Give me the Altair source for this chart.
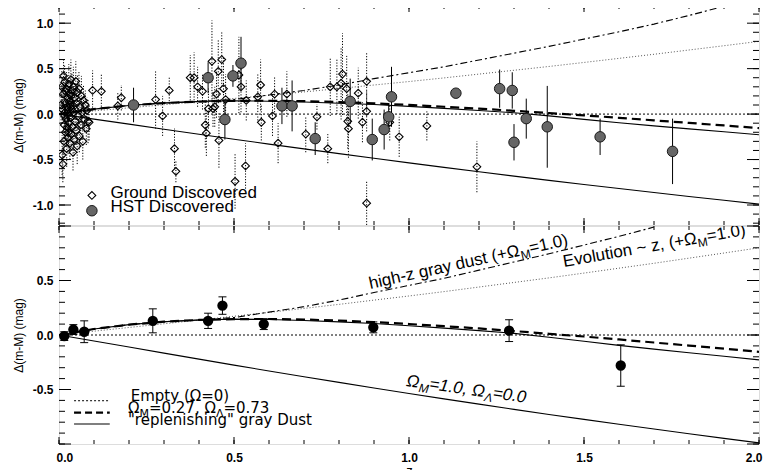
import altair as alt
import pandas as pd

FONT = "Liberation Sans"
LEG_FONT = "DejaVu Sans"

# ---------------- model curves ----------------
z_model = [0.0, 0.1, 0.2, 0.3, 0.4, 0.5, 0.6, 0.7, 0.8, 0.9, 1.0,
           1.1, 1.2, 1.3, 1.4, 1.5, 1.6, 1.7, 1.8, 1.9, 2.0]
lcdm = [0.0, 0.055, 0.095, 0.122, 0.138, 0.146, 0.147, 0.142, 0.132, 0.118, 0.101,
        0.081, 0.060, 0.036, 0.011, -0.014, -0.041, -0.069, -0.097, -0.125, -0.154]
replen = [0.0, 0.055, 0.095, 0.122, 0.138, 0.146, 0.142, 0.133, 0.120, 0.105, 0.085,
          0.063, 0.040, 0.015, -0.020, -0.058, -0.095, -0.130, -0.163, -0.195, -0.228]
eds = [0.0, -0.055, -0.110, -0.166, -0.221, -0.276, -0.330, -0.383, -0.435, -0.486, -0.537,
       -0.586, -0.634, -0.682, -0.729, -0.774, -0.819, -0.863, -0.906, -0.948, -0.990]
graydust = [0.0, 0.055, 0.095, 0.122, 0.138, 0.160, 0.210, 0.260, 0.320, 0.390, 0.455,
            0.520, 0.595, 0.670, 0.745, 0.825, 0.905, 0.990, 1.085, 1.185, 1.290]
evol = [0.0, 0.035, 0.069, 0.103, 0.137, 0.172, 0.207, 0.244, 0.281, 0.320, 0.358,
        0.398, 0.440, 0.482, 0.524, 0.568, 0.613, 0.658, 0.705, 0.752, 0.800]
empty_z = [0.0, 2.0]
empty_v = [0.0, 0.0]

# ---------------- top panel: individual SNe ----------------
ground_z = [0.006, 0.008, 0.009, 0.010, 0.011, 0.012, 0.013, 0.014, 0.015,
            0.016, 0.016, 0.017, 0.018, 0.019, 0.019, 0.020,
            0.021, 0.022, 0.023, 0.024, 0.024, 0.025, 0.026, 0.027, 0.027, 0.028,
            0.029, 0.030, 0.031, 0.031, 0.032, 0.033, 0.034, 0.035, 0.035, 0.036,
            0.037, 0.038, 0.039, 0.040, 0.041, 0.042, 0.043, 0.045, 0.046, 0.048,
            0.049, 0.050, 0.052, 0.053, 0.055, 0.057, 0.058, 0.060, 0.062, 0.064,
            0.066, 0.068, 0.070, 0.073, 0.075, 0.078, 0.080, 0.083, 0.086,
            0.096, 0.121, 0.168, 0.178, 0.276, 0.296, 0.315, 0.330, 0.334, 0.375,
            0.386, 0.396, 0.410, 0.418, 0.421, 0.427, 0.437, 0.440, 0.445, 0.450,
            0.455, 0.457, 0.465, 0.470, 0.476, 0.503, 0.514, 0.520, 0.533, 0.535,
            0.568, 0.576, 0.578, 0.610, 0.616, 0.626, 0.651, 0.705, 0.737, 0.768,
            0.775, 0.794, 0.806, 0.810, 0.822, 0.825, 0.827, 0.855, 0.867, 0.879,
            0.879, 0.879, 0.945, 0.972, 1.051, 1.194]
ground_v = [0.10, 0.30, -0.45, 0.05, -0.55, 0.22, 0.42, -0.30, -0.12,
            0.35, -0.02, 0.02, -0.20, 0.12, 0.25, -0.05,
            0.28, -0.38, 0.08, -0.15, 0.05, 0.18, -0.26, 0.00, -0.20, 0.33,
            -0.10, 0.14, -0.32, 0.10, 0.22, -0.04, 0.38, -0.22, 0.20, 0.06,
            0.26, -0.14, 0.10, -0.42, 0.30, 0.02, -0.28, 0.18, -0.08, 0.36,
            -0.18, 0.12, -0.35, 0.24, -0.02, 0.28, -0.24, 0.08, -0.12, 0.20,
            0.02, -0.30, 0.15, -0.06, 0.10, -0.16, 0.04, -0.08, -0.09,
            0.26, 0.25, 0.09, 0.18, 0.16, -0.02, 0.26, -0.38, -0.63, 0.40,
            0.40, 0.30, 0.25, -0.12, -0.21, 0.06, 0.58, 0.06, 0.08, 0.22,
            0.47, -0.29, 0.60, 0.28, 0.16, -0.74, 0.43, 0.30, -0.57, 0.15,
            0.19, 0.32, -0.09, -0.02, 0.22, -0.32, 0.22, -0.22, -0.03, -0.38,
            0.30, 0.30, 0.34, 0.44, 0.28, -0.08, -0.16, 0.23, -0.09, 0.36,
            0.03, -0.98, -0.09, -0.25, -0.13, -0.58]
ground_err = [0.20, 0.18, 0.22, 0.15, 0.20, 0.16, 0.20, 0.18, 0.14,
              0.20, 0.12, 0.14, 0.16, 0.15, 0.18, 0.12,
              0.20, 0.20, 0.14, 0.16, 0.12, 0.18, 0.18, 0.12, 0.16, 0.22,
              0.14, 0.16, 0.18, 0.12, 0.20, 0.14, 0.22, 0.18, 0.16, 0.12,
              0.20, 0.15, 0.14, 0.20, 0.22, 0.14, 0.18, 0.16, 0.14, 0.22,
              0.16, 0.18, 0.20, 0.20, 0.14, 0.20, 0.18, 0.14, 0.16, 0.22,
              0.14, 0.20, 0.16, 0.14, 0.16, 0.18, 0.14, 0.24, 0.20,
              0.22, 0.20, 0.15, 0.14, 0.32, 0.22, 0.15, 0.22, 0.12, 0.25,
              0.28, 0.22, 0.20, 0.25, 0.25, 0.22, 0.45, 0.20, 0.22, 0.26,
              0.35, 0.30, 0.30, 0.35, 0.28, 0.30, 0.42, 0.28, 0.25, 0.22,
              0.26, 0.28, 0.20, 0.22, 0.20, 0.22, 0.25, 0.20, 0.14, 0.16,
              0.32, 0.30, 0.40, 0.45, 0.36, 0.30, 0.32, 0.28, 0.22, 0.32,
              0.22, 0.24, 0.20, 0.22, 0.16, 0.28]

hst_z = [0.213, 0.426, 0.474, 0.497, 0.520, 0.637, 0.666, 0.732, 0.832, 0.895, 0.929,
         0.942, 0.950, 1.134, 1.259, 1.295, 1.300, 1.335, 1.395, 1.546, 1.753]
hst_v = [0.10, 0.40, -0.06, 0.42, 0.56, 0.09, 0.09, -0.27, 0.14, -0.28, -0.17,
         -0.03, 0.19, 0.23, 0.28, 0.26, -0.31, -0.05, -0.14, -0.25, -0.41]
hst_err = [0.19, 0.17, 0.22, 0.12, 0.29, 0.20, 0.28, 0.18, 0.25, 0.23, 0.22,
           0.15, 0.33, 0.04, 0.21, 0.20, 0.20, 0.22, 0.45, 0.20, 0.36]

# ---------------- bottom panel: binned data ----------------
bin_z = [0.015, 0.041, 0.072, 0.268, 0.426, 0.467, 0.585, 0.898, 1.286, 1.605]
bin_v = [-0.01, 0.05, 0.03, 0.13, 0.13, 0.27, 0.10, 0.07, 0.04, -0.28]
bin_err = [0.04, 0.045, 0.10, 0.11, 0.07, 0.08, 0.05, 0.05, 0.10, 0.19]

# ---------------- ticks ----------------
x_major = [0.0, 0.5, 1.0, 1.5, 2.0]
x_minor = [0.0, 0.1, 0.2, 0.3, 0.4, 0.5, 0.6, 0.7, 0.8, 0.9, 1.0,
           1.1, 1.2, 1.3, 1.4, 1.5, 1.6, 1.7, 1.8, 1.9, 2.0]
top_major = [-1.0, -0.5, 0.0, 0.5, 1.0]
top_minor = [-1.2, -1.1, -1.0, -0.9, -0.8, -0.7, -0.6, -0.5, -0.4, -0.3, -0.2, -0.1, 0.0,
             0.1, 0.2, 0.3, 0.4, 0.5, 0.6, 0.7, 0.8, 0.9, 1.0, 1.1, 1.2]
bot_labels = [-0.5, 0.0, 0.5]
bot_major = [-1.0, -0.5, 0.0, 0.5, 1.0]
bot_minor = [-1.0, -0.9, -0.8, -0.7, -0.6, -0.5, -0.4, -0.3, -0.2, -0.1, 0.0,
             0.1, 0.2, 0.3, 0.4, 0.5, 0.6, 0.7, 0.8, 0.9, 1.0]

# ---------------- legend / annotation text ----------------
top_leg_labels = ["Ground Discovered", "HST Discovered"]
top_leg_text_z = [0.147, 0.147]
top_leg_text_v = [-0.918, -1.074]
top_leg_sym_z = [0.094, 0.094]
top_leg_sym_v = [-0.895, -1.063]

bot_leg_line_z = [0.043, 0.145]
bot_leg_line_v = [-0.603, -0.713, -0.817]
bot_leg_text_z = [0.205, 0.197, 0.197]
bot_leg_text_v = [-0.606, -0.718, -0.828]

W = 700
H_TOP = 220
H_BOT = 218
XS = alt.Scale(domain=[0, 2], nice=False, zero=False)
YS_TOP = alt.Scale(domain=[-1.22, 1.2], nice=False, zero=False)
YS_BOT = alt.Scale(domain=[-1.0, 1.0], nice=False, zero=False)
LBL = "datum.value < 0 ? '-' + format(-datum.value, '.1f') : format(datum.value, '.1f')"


def yaxis(values):
    return alt.Axis(values=values, labelExpr=LBL, ticks=False, tickSize=0, domain=False,
                    grid=False, title="\u0394(m-M) (mag)", titleFontSize=12,
                    titleFontWeight="normal", labelFontSize=12, labelFontWeight="bold",
                    labelPadding=6, titlePadding=7, labelColor="black", titleColor="black")


XAX_BOT = alt.Axis(values=x_major, labelExpr=LBL, ticks=False, tickSize=0, domain=False,
                   grid=False, title="z", titleFontSize=13, titleFontWeight="normal",
                   labelFontSize=12, labelFontWeight="bold", labelPadding=8, titlePadding=1,
                   labelFlush=True, labelFlushOffset=3, labelColor="black", titleColor="black")


def build_panel(H, ys, ymax, yax, xax, ymaj, ymin, is_top):
    def X(f="z"):
        if xax is None:
            return alt.X(f + ":Q", scale=XS, axis=None)
        return alt.X(f + ":Q", scale=XS, axis=xax)

    def Y(f="v"):
        return alt.Y(f + ":Q", scale=ys, axis=yax)

    layers = []
    styles = [
        (empty_z, empty_v, dict(strokeDash=[2, 2], strokeWidth=1, color="black")),
        (z_model, evol, dict(strokeDash=[1, 2], strokeWidth=0.9, color="#444")),
        (z_model, graydust, dict(strokeDash=[7, 3, 2, 3], strokeWidth=1.1, color="black")),
        (z_model, eds, dict(strokeWidth=1.1, color="black")),
        (z_model, replen, dict(strokeWidth=1.1, color="black")),
        (z_model, lcdm, dict(strokeDash=[9, 5], strokeWidth=2.2, color="black")),
    ]
    for zz, vv, st in styles:
        df = pd.DataFrame({"z": zz, "v": vv})
        layers.append(alt.Chart(df).transform_filter(alt.datum.v <= ymax)
                      .mark_line(clip=True, **st).encode(x=X(), y=Y()))

    # inner ticks
    for vals, ln in [(ymaj, 12), (ymin, 6)]:
        df = pd.DataFrame({"v": vals})
        layers.append(alt.Chart(df).mark_rule(color="black", strokeWidth=1).encode(
            y=Y(), x=alt.value(0), x2=alt.value(ln)))
        layers.append(alt.Chart(df).mark_rule(color="black", strokeWidth=1).encode(
            y=Y(), x=alt.value(W - ln), x2=alt.value(W)))
    for vals, ln in [(x_major, 7), (x_minor, 4)]:
        df = pd.DataFrame({"z": vals})
        layers.append(alt.Chart(df).mark_rule(color="black", strokeWidth=1).encode(
            x=X(), y=alt.value(0), y2=alt.value(ln)))
        layers.append(alt.Chart(df).mark_rule(color="black", strokeWidth=1).encode(
            x=X(), y=alt.value(H - ln), y2=alt.value(H)))

    def text_piece(z, v, txt, dx=0, dy=0, size=17, angle=0, italic=False, font=FONT, clip=False):
        df = pd.DataFrame({"z": [z], "v": [v], "t": [txt]})
        kw = dict(align="left", baseline="alphabetic", dx=dx, dy=dy, fontSize=size,
                  angle=angle, font=font, color="black")
        if italic:
            kw["fontStyle"] = "italic"
        if clip:
            kw["clip"] = True
        return alt.Chart(df).mark_text(**kw).encode(x=X(), y=Y(), text="t:N")

    if is_top:
        gdf = pd.DataFrame({"z": ground_z, "v": ground_v, "e": ground_err})
        gdf["lo"] = gdf["v"] - gdf["e"]
        gdf["hi"] = gdf["v"] + gdf["e"]
        hdf = pd.DataFrame({"z": hst_z, "v": hst_v, "e": hst_err})
        hdf["lo"] = hdf["v"] - hdf["e"]
        hdf["hi"] = hdf["v"] + hdf["e"]
        layers.append(alt.Chart(gdf).mark_rule(strokeDash=[1.2, 1.6], strokeWidth=1, color="black", clip=True)
                      .encode(x=X(), y=Y("lo"), y2="hi:Q"))
        layers.append(alt.Chart(hdf).mark_rule(strokeWidth=1, color="black", clip=True)
                      .encode(x=X(), y=Y("lo"), y2="hi:Q"))
        layers.append(alt.Chart(gdf).mark_point(shape="diamond", filled=False, color="black",
                                                strokeWidth=1.1, size=60, opacity=1, clip=True)
                      .encode(x=X(), y=Y()))
        layers.append(alt.Chart(hdf).mark_point(shape="circle", filled=True, fill="#666666", stroke="#1a1a1a",
                                                strokeWidth=1, size=110, opacity=1, clip=True)
                      .encode(x=X(), y=Y()))
        sym_g = pd.DataFrame({"z": [top_leg_sym_z[0]], "v": [top_leg_sym_v[0]]})
        sym_h = pd.DataFrame({"z": [top_leg_sym_z[1]], "v": [top_leg_sym_v[1]]})
        layers.append(alt.Chart(sym_g).mark_point(shape="diamond", filled=False, color="black",
                                                  strokeWidth=1.1, size=60, opacity=1).encode(x=X(), y=Y()))
        layers.append(alt.Chart(sym_h).mark_point(shape="circle", filled=True, fill="#666666",
                                                  stroke="#1a1a1a", strokeWidth=1, size=110, opacity=1)
                      .encode(x=X(), y=Y()))
        for i in range(2):
            layers.append(text_piece(top_leg_text_z[i], top_leg_text_v[i], top_leg_labels[i]))
    else:
        bdf = pd.DataFrame({"z": bin_z, "v": bin_v, "e": bin_err})
        bdf["lo"] = bdf["v"] - bdf["e"]
        bdf["hi"] = bdf["v"] + bdf["e"]
        layers.append(alt.Chart(bdf).mark_rule(strokeWidth=1, color="black")
                      .encode(x=X(), y=Y("lo"), y2="hi:Q"))
        for f in ["lo", "hi"]:
            layers.append(alt.Chart(bdf).mark_tick(orient="horizontal", size=8, thickness=1,
                                                   color="black", opacity=1)
                          .encode(x=X(), y=Y(f)))
        layers.append(alt.Chart(bdf).mark_point(shape="circle", filled=True, fill="black", stroke="black",
                                                size=70, opacity=1).encode(x=X(), y=Y()))
        leg_styles = [dict(strokeDash=[2, 2], strokeWidth=1), dict(strokeDash=[7, 4], strokeWidth=2.2),
                      dict(strokeWidth=1.1)]
        for i in range(3):
            df = pd.DataFrame({"z": bot_leg_line_z, "v": [bot_leg_line_v[i]] * 2})
            layers.append(alt.Chart(df).mark_line(color="black", **leg_styles[i]).encode(x=X(), y=Y()))
        layers.append(text_piece(bot_leg_text_z[0], bot_leg_text_v[0], "Empty (\u03a9=0)", size=15,
                                 font=LEG_FONT))
        pieces = [("\u03a9", 0, 0, 15), ("M", 11.5, 3.5, 11), ("=0.27, \u03a9", 21.0, 0, 15),
                  ("\u039b", 88.0, 3.5, 11), ("=0.73", 95.5, 0, 15)]
        for t, dx, dy, s in pieces:
            layers.append(text_piece(bot_leg_text_z[1], bot_leg_text_v[1], t, dx=dx, dy=dy, size=s,
                                     font=LEG_FONT))
        layers.append(text_piece(bot_leg_text_z[2], bot_leg_text_v[2], "\"replenishing\" gray Dust", size=15,
                                 font=LEG_FONT))
        ann = [
            (0.889, 0.422, 347.5, False, [("high-z gray dust (+\u03a9", 0, 0, 17), ("M", 154.3, 4, 12),
                                           ("=1.0)", 164.3, 0, 17)]),
            (1.443, 0.624, 350, False, [("Evolution ~ z, (+\u03a9", 0, 0, 17), ("M", 135.9, 4, 12),
                                         ("=1.0)", 145.9, 0, 17)]),
            (0.991, -0.468, 8, True, [("\u03a9", 0, 0, 17), ("M", 13.1, 4, 12), ("=1.0, \u03a9", 23.1, 0, 17),
                                      ("\u039b", 79.2, 4, 12), ("=0.0", 87.2, 0, 17)]),
        ]
        for z0, v0, ang, ital, pcs in ann:
            for t, dx, dy, s in pcs:
                layers.append(text_piece(z0, v0, t, dx=dx, dy=dy, size=s, angle=ang, italic=ital, clip=True))

    return alt.layer(*layers).properties(width=W, height=H)


top = build_panel(H_TOP, YS_TOP, 1.2, yaxis(top_major), None, top_major, top_minor, True)
bottom = build_panel(H_BOT, YS_BOT, 1.0, yaxis(bot_labels), XAX_BOT, bot_major, bot_minor, False)

chart = alt.vconcat(top, bottom, spacing=-2).properties(
    padding={"left": 3, "top": -4, "right": 0, "bottom": 0}
).configure_view(stroke="black", strokeWidth=1.6).configure(font=FONT, background="white")

chart.save("out.html", embed_options={"renderer": "svg", "actions": False})
